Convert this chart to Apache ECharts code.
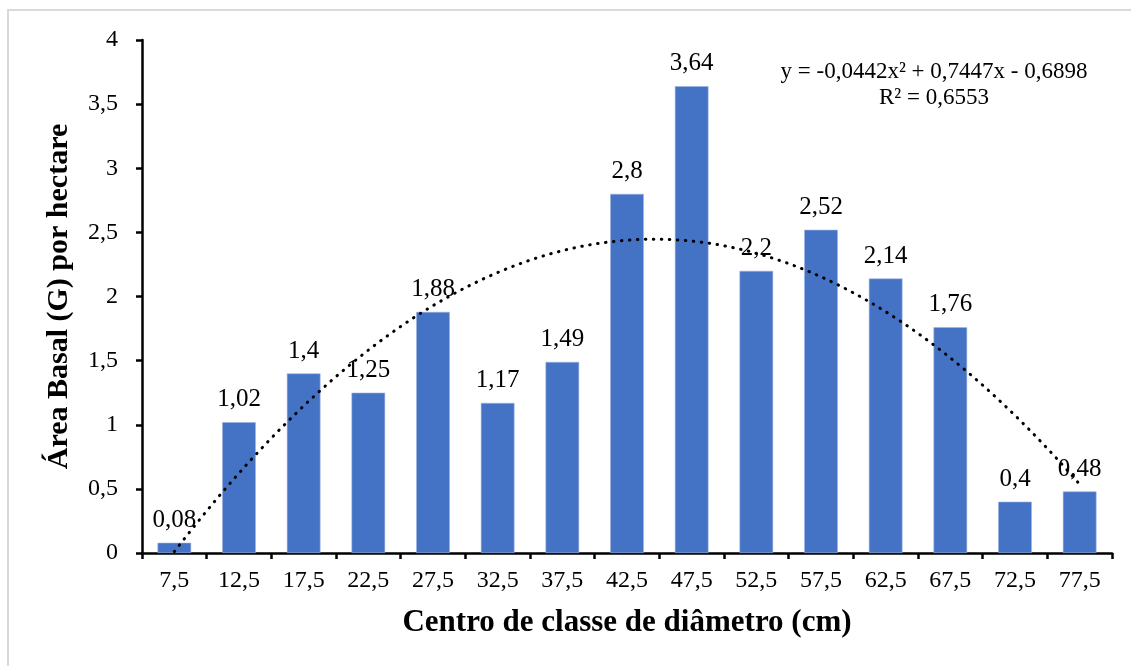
<!DOCTYPE html>
<html>
<head>
<meta charset="utf-8">
<script src="https://cdn.jsdelivr.net/npm/echarts@6/dist/echarts.min.js"></script>
<style>
  html, body { margin: 0; padding: 0; background: #ffffff; }
  #chart { width: 1131px; height: 666px; }
</style>
</head>
<body>
<div id="chart"></div>
<script>
// Diameter class centres (cm)
const categories = ['7,5', '12,5', '17,5', '22,5', '27,5', '32,5', '37,5', '42,5', '47,5', '52,5', '57,5', '62,5', '67,5', '72,5', '77,5'];
// Basal area per hectare for each class
const basalArea = [0.08, 1.02, 1.4, 1.25, 1.88, 1.17, 1.49, 2.8, 3.64, 2.2, 2.52, 2.14, 1.76, 0.4, 0.48];
// Polynomial trend coefficients (a·x² + b·x + c, x = class index 1..15)
const trendCoef = [-0.0442, 0.7447, -0.6898];
const rSquared = '0,6553';
const yTicks = [0, 0.5, 1, 1.5, 2, 2.5, 3, 3.5, 4];

const fmt = v => String(v).replace('.', ',');

// Sample the fitted polynomial along the class index
const trendPoints = [];
for (let i = 0; i <= 140; i++) {
  const x = 1 + i * 0.1;
  trendPoints.push([x, trendCoef[0] * x * x + trendCoef[1] * x + trendCoef[2]]);
}

const eqText = 'y = ' + fmt(trendCoef[0]) + 'x² + ' + fmt(trendCoef[1]) + 'x - ' + fmt(Math.abs(trendCoef[2]));

const chart = echarts.init(document.getElementById('chart'), null, { renderer: 'canvas' });
const serif = '"Liberation Serif", "Times New Roman", serif';

chart.setOption({
  animation: false,
  backgroundColor: '#ffffff',
  textStyle: { fontFamily: serif, color: '#000' },
  grid: { left: 142, right: 19, top: 40, bottom: 113 },
  xAxis: [
    {
      type: 'category',
      data: categories,
      boundaryGap: true,
      axisLine: { lineStyle: { color: '#000', width: 2.5 } },
      axisTick: { show: true, length: 6, lineStyle: { color: '#000', width: 2.5 } },
      axisLabel: { fontFamily: serif, fontSize: 24, color: '#000', margin: 16 },
      name: 'Centro de classe de diâmetro (cm)',
      nameLocation: 'middle',
      nameGap: 54,
      nameTextStyle: { fontFamily: serif, fontSize: 31, fontWeight: 'bold', color: '#000' }
    },
    {
      type: 'value',
      min: 0.5,
      max: 15.5,
      show: false
    }
  ],
  yAxis: {
    type: 'value',
    min: yTicks[0],
    max: yTicks[yTicks.length - 1],
    interval: yTicks[1] - yTicks[0],
    splitLine: { show: false },
    axisLine: { show: true, lineStyle: { color: '#000', width: 2.5 } },
    axisTick: { show: true, length: 6, lineStyle: { color: '#000', width: 2.5 } },
    axisLabel: { fontFamily: serif, fontSize: 24, color: '#000', margin: 24, formatter: v => fmt(v) },
    name: 'Área Basal (G) por hectare',
    nameLocation: 'middle',
    nameGap: 68,
    nameRotate: 90,
    nameTextStyle: { fontFamily: serif, fontSize: 30, fontWeight: 'bold', color: '#000' }
  },
  series: [
    {
      type: 'bar',
      xAxisIndex: 0,
      data: basalArea,
      barWidth: '52%',
      itemStyle: { color: '#4472C4', borderColor: '#9db3e0', borderWidth: 0.6 },
      label: {
        show: true,
        position: 'top',
        distance: 10,
        fontFamily: serif,
        fontSize: 25,
        color: '#000',
        formatter: p => fmt(p.value)
      },
      z: 2
    },
    {
      type: 'line',
      xAxisIndex: 1,
      data: trendPoints,
      showSymbol: false,
      smooth: false,
      lineStyle: { color: '#000', width: 3, type: [0.5, 7.5], cap: 'round' },
      z: 3,
      silent: true
    }
  ],
  graphic: [
    {
      type: 'rect',
      shape: { x: 8, y: 10, width: 1200, height: 700 },
      style: { fill: 'none', stroke: '#d9d9d9', lineWidth: 2 },
      silent: true,
      z: -1
    },
    {
      type: 'text',
      x: 934,
      y: 72,
      style: { text: eqText, font: '23px ' + serif, fill: '#000', align: 'center', verticalAlign: 'middle' }
    },
    {
      type: 'text',
      x: 934,
      y: 98,
      style: { text: 'R² = ' + rSquared, font: '23px ' + serif, fill: '#000', align: 'center', verticalAlign: 'middle' }
    }
  ]
});
</script>
</body>
</html>
